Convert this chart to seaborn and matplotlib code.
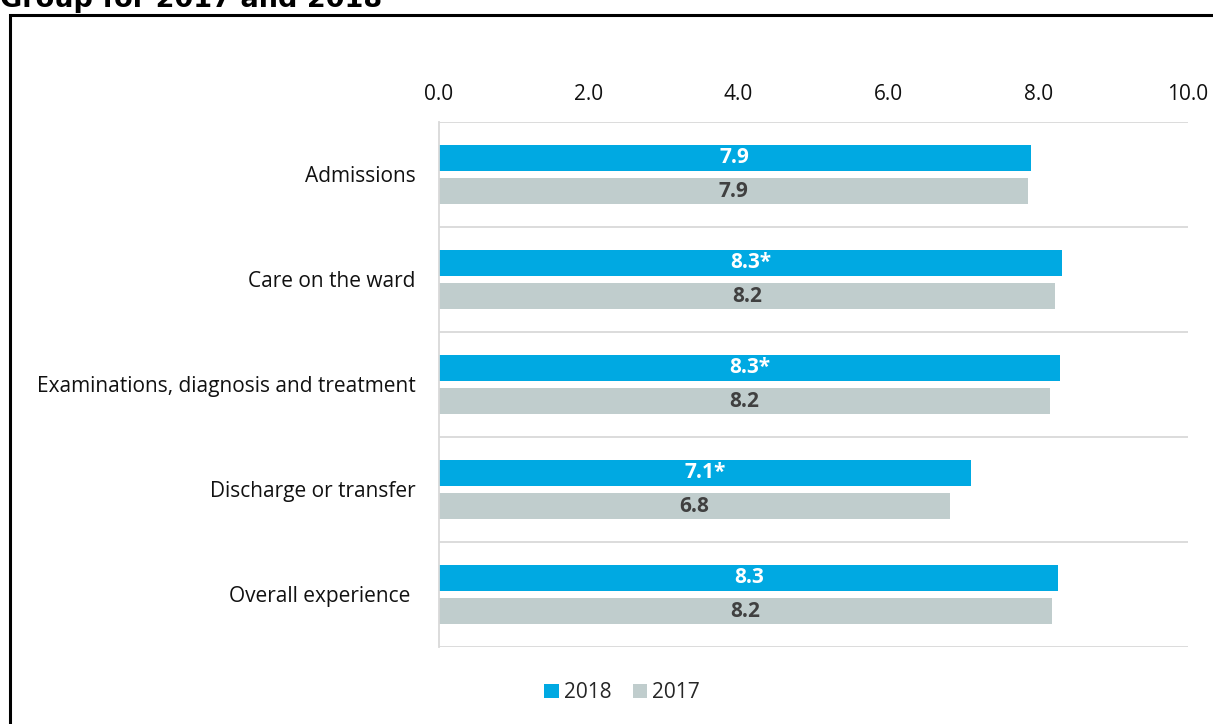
import matplotlib
matplotlib.use("Agg")
import matplotlib.pyplot as plt
from matplotlib.patches import Rectangle, Patch
import seaborn as sns
import pandas as pd
import numpy as np

categories = [
    "Admissions",
    "Care on the ward",
    "Examinations, diagnosis and treatment",
    "Discharge or transfer",
    "Overall experience ",
]
years = ["2018", "2017"]
scores_2018 = [7.90, 8.32, 8.29, 7.10, 8.27]
scores_2017 = [7.86, 8.22, 8.16, 6.82, 8.18]
significant_2018 = [False, True, True, True, False]
x_ticks = [0.0, 2.0, 4.0, 6.0, 8.0, 10.0]

title = "Group for 2017 and 2018"
colors = {"2018": "#00A9E2", "2017": "#C0CDCD"}
label_colors = {"2018": "white", "2017": "#404040"}

df = pd.DataFrame({
    "category": categories * 2,
    "year": ["2018"] * len(categories) + ["2017"] * len(categories),
    "score": scores_2018 + scores_2017,
})

sns.set_theme(style="white")
plt.rcParams["font.family"] = ["Open Sans", "DejaVu Sans"]

fig = plt.figure(figsize=(12.13, 7.24), dpi=100)
ax = fig.add_axes([0.3619, 0.1064, 0.6175, 0.7251])

sns.barplot(
    data=df, y="category", x="score", hue="year", hue_order=years,
    palette=colors, orient="h", width=0.63, gap=0.24, ax=ax,
    legend=False, saturation=1, linewidth=0,
)

# value labels centred in each bar
for container, year in zip(ax.containers, years):
    flags = significant_2018 if year == "2018" else [False] * len(categories)
    labels = [f"{v:.1f}" + ("*" if f else "") for v, f in
              zip(container.datavalues, flags)]
    ax.bar_label(container, labels=labels, label_type="center",
                 color=label_colors[year], fontsize=15, fontweight="bold")

ax.set_xlim(0, 10)
ax.set_ylim(len(categories) - 0.5, -0.5)
ax.set_xticks(x_ticks)
ax.set_xticklabels([f"{t:.1f}" for t in x_ticks])
ax.xaxis.tick_top()
ax.tick_params(axis="x", length=0, pad=12, labelsize=15, colors="#111111")
ax.tick_params(axis="y", length=0, pad=17, labelsize=15, colors="#111111")
ax.set_xlabel("")
ax.set_ylabel("")

for s in ["top", "right", "bottom"]:
    ax.spines[s].set_visible(False)
ax.spines["left"].set_color("#D9D9D9")
ax.spines["left"].set_linewidth(1.3)

# category separators
for b in np.arange(len(categories) + 1) - 0.5:
    ax.axhline(b, color="#D9D9D9", linewidth=1.3, zorder=0)

handles = [Patch(facecolor=colors[y], edgecolor="none", label=y) for y in years]
fig.legend(handles=handles, loc="center", bbox_to_anchor=(0.513, 0.043),
           ncol=2, frameon=False, fontsize=15, handlelength=0.7,
           handleheight=0.7, handletextpad=0.25, columnspacing=1.0)

# outer frame and title
fig.patches.append(Rectangle((9.5 / 1213, -0.05), 1.2, 1 - 15 / 724 + 0.05,
                             transform=fig.transFigure, fill=False,
                             edgecolor="black", linewidth=2.2))
fig.text(0.0, 1.0 - 7 / 724, title, fontsize=19.5, fontweight="bold",
         family="DejaVu Sans", ha="left", va="baseline", color="black")

fig.savefig("out.png", dpi=100)
